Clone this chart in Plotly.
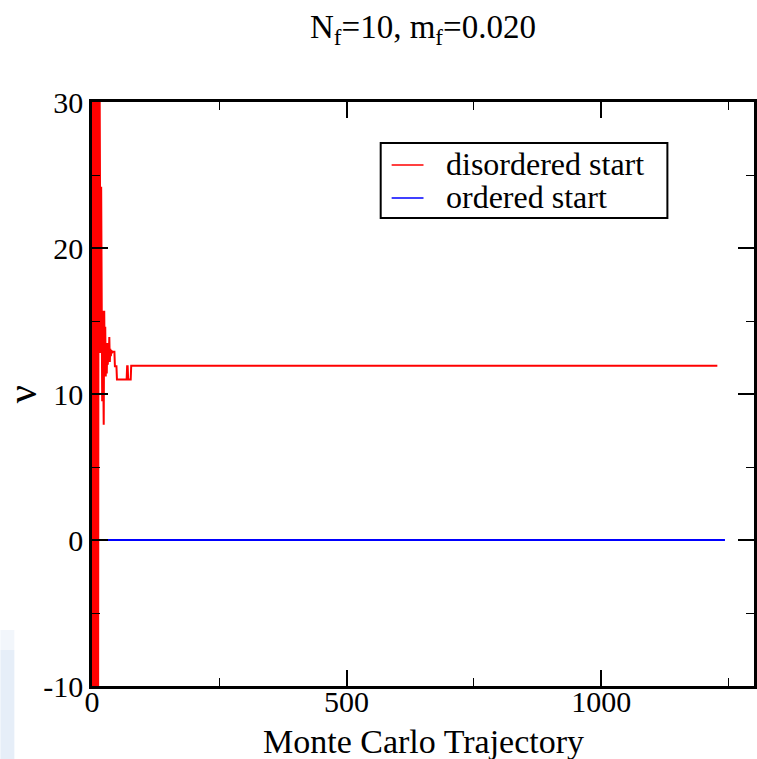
import plotly.graph_objects as go

# Monte Carlo histories of the topological index for the two starts
red_traj = list(range(0, 49)) + [49, 68, 69, 70, 71, 76, 77, 1228]
red_nu = [
    -25, 48, -32, 41, -20, 44, -28, 37, -17, 39, -14, 35, -12, 33, 12.8, 31,
    24.5, 12.8, 24.2, 16.5, 9.5, 15.7, 11.5, 7.9, 15.7, 11.8, 14.6, 11.2,
    13.2, 11.4, 13.5, 12.0, 13.0, 12.3, 13.9, 12.2, 13.1, 12.6, 13.0, 12.8,
    12.9, 12.9, 12.9, 12.9, 12.9, 11.9, 11.9, 11.9, 11.9,
    11.0, 11.0, 11.9, 11.9, 11.0, 11.0, 11.94, 11.94,
]
blue_traj = [0, 1243]
blue_nu = [0, 0]

series_names = ["disordered start", "ordered start"]
series_colors = ["#ff0000", "#0000ff"]

x_range = [0, 1300]
y_range = [-10, 30]
x_ticks = [0, 500, 1000]
y_ticks = [-10, 0, 10, 20, 30]

FONT = "Liberation Serif"
W, H = 757, 759
L, R, T, B = 92, 0, 102, 73
PW, PH = W - L - R, H - T - B


def px_x(p):
    return (p - L) / PW


def px_y(p):
    return (H - B - p) / PH


fig = go.Figure()
fig.add_trace(go.Scatter(x=red_traj, y=red_nu, mode="lines", name=series_names[0],
                         line=dict(color=series_colors[0], width=2), showlegend=False))
fig.add_trace(go.Scatter(x=blue_traj, y=blue_nu, mode="lines", name=series_names[1],
                         line=dict(color=series_colors[1], width=2), showlegend=False))

axis_common = dict(
    showline=True, linecolor="black", linewidth=2.5, mirror="ticks",
    ticks="inside", ticklen=16, tickwidth=1.5, tickcolor="black",
    showgrid=False, zeroline=False,
    tickfont=dict(family=FONT, size=30, color="black"),
)

fig.update_xaxes(range=x_range, tickvals=x_ticks, ticktext=[str(v) for v in x_ticks],
                 ticklabelstandoff=-13,
                 minor=dict(dtick=250, tick0=0, ticks="inside", ticklen=8, tickwidth=1.2,
                            tickcolor="black", showgrid=False),
                 **axis_common)
fig.update_yaxes(range=y_range, tickvals=y_ticks, ticktext=[str(v) for v in y_ticks],
                 minor=dict(dtick=5, tick0=0, ticks="inside", ticklen=8, tickwidth=1.2,
                            tickcolor="black", showgrid=False),
                 **axis_common)

# faint bluish backdrop at the lower-left corner
fig.add_shape(type="rect", xref="paper", yref="paper", layer="below",
              x0=px_x(0), x1=px_x(14), y0=px_y(759), y1=px_y(650),
              fillcolor="#e6eef8", line=dict(width=0))
fig.add_shape(type="rect", xref="paper", yref="paper", layer="below",
              x0=px_x(0), x1=px_x(14), y0=px_y(650), y1=px_y(630),
              fillcolor="#f2f6fb", line=dict(width=0))

# legend box with line samples
fig.add_shape(type="rect", xref="paper", yref="paper",
              x0=px_x(382), x1=px_x(670), y0=px_y(218), y1=px_y(143),
              fillcolor="white", line=dict(color="black", width=2))
for i, (name, color) in enumerate(zip(series_names, series_colors)):
    yc = 165 + 33 * i
    fig.add_shape(type="line", xref="paper", yref="paper",
                  x0=px_x(393), x1=px_x(425), y0=px_y(yc), y1=px_y(yc),
                  line=dict(color=color, width=1.5))
    fig.add_annotation(text=name, xref="paper", yref="paper",
                       x=px_x(446), y=px_y(yc - 1), xanchor="left", yanchor="middle",
                       showarrow=False, font=dict(family=FONT, size=32, color="black"))

fig.add_annotation(text="N<sub>f</sub>=10, m<sub>f</sub>=0.020", xref="paper", yref="paper",
                   x=0.5, y=px_y(29), xanchor="center", yanchor="middle", showarrow=False,
                   font=dict(family=FONT, size=33, color="black"))
fig.add_annotation(text="Monte Carlo Trajectory", xref="paper", yref="paper",
                   x=0.5, y=px_y(741), xanchor="center", yanchor="middle", showarrow=False,
                   font=dict(family=FONT, size=34, color="black"))
fig.add_annotation(text="ν", xref="paper", yref="paper", textangle=-90,
                   x=px_x(22), y=px_y(394), xanchor="center", yanchor="middle", showarrow=False,
                   font=dict(family=FONT, size=40, color="black"))

fig.update_layout(
    width=W, height=H,
    margin=dict(l=L, r=R, t=T, b=B),
    paper_bgcolor="white", plot_bgcolor="white",
    showlegend=False,
)

fig.write_html("out.html")
